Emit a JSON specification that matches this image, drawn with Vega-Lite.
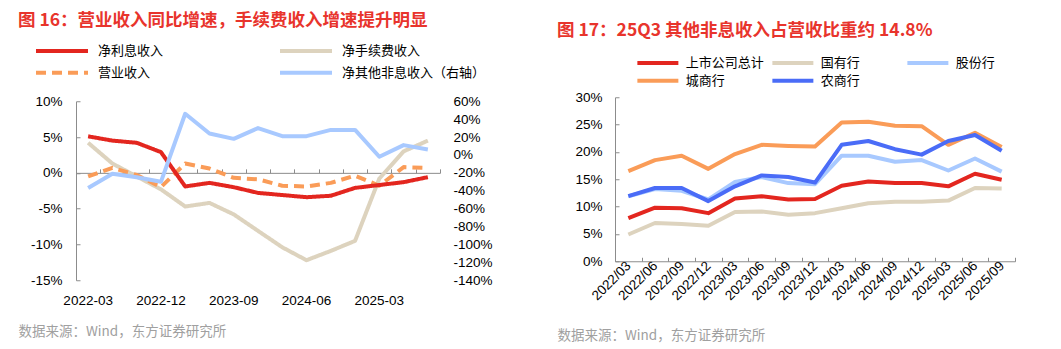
{
  "$schema": "https://vega.github.io/schema/vega-lite/v6.json",
  "padding": {"left": 18, "top": 11, "right": 5, "bottom": 5},
  "spacing": 64,
  "center": true,
  "datasets": {
    "left": [
      {"d": "2022-03", "s": "净手续费收入", "v": 4.2},
      {"d": "2022-06", "s": "净手续费收入", "v": 1.3},
      {"d": "2022-09", "s": "净手续费收入", "v": -0.5},
      {"d": "2022-12", "s": "净手续费收入", "v": -2.3},
      {"d": "2023-03", "s": "净手续费收入", "v": -4.7},
      {"d": "2023-06", "s": "净手续费收入", "v": -4.2},
      {"d": "2023-09", "s": "净手续费收入", "v": -5.8},
      {"d": "2023-12", "s": "净手续费收入", "v": -8.1},
      {"d": "2024-03", "s": "净手续费收入", "v": -10.4},
      {"d": "2024-06", "s": "净手续费收入", "v": -12.2},
      {"d": "2024-09", "s": "净手续费收入", "v": -10.9},
      {"d": "2024-12", "s": "净手续费收入", "v": -9.5},
      {"d": "2025-03", "s": "净手续费收入", "v": -0.8},
      {"d": "2025-06", "s": "净手续费收入", "v": 3.0},
      {"d": "2025-09", "s": "净手续费收入", "v": 4.5},
      {"d": "2022-03", "s": "营业收入", "v": -0.5},
      {"d": "2022-06", "s": "营业收入", "v": 0.7},
      {"d": "2022-09", "s": "营业收入", "v": -0.3},
      {"d": "2022-12", "s": "营业收入", "v": -2.0},
      {"d": "2023-03", "s": "营业收入", "v": 1.3},
      {"d": "2023-06", "s": "营业收入", "v": 0.6},
      {"d": "2023-09", "s": "营业收入", "v": -0.7},
      {"d": "2023-12", "s": "营业收入", "v": -0.9},
      {"d": "2024-03", "s": "营业收入", "v": -1.8},
      {"d": "2024-06", "s": "营业收入", "v": -1.9},
      {"d": "2024-09", "s": "营业收入", "v": -1.4},
      {"d": "2024-12", "s": "营业收入", "v": -0.4},
      {"d": "2025-03", "s": "营业收入", "v": -1.8},
      {"d": "2025-06", "s": "营业收入", "v": 0.8},
      {"d": "2025-09", "s": "营业收入", "v": 0.7},
      {"d": "2022-03", "s": "净利息收入", "v": 5.1},
      {"d": "2022-06", "s": "净利息收入", "v": 4.5},
      {"d": "2022-09", "s": "净利息收入", "v": 4.2},
      {"d": "2022-12", "s": "净利息收入", "v": 2.9},
      {"d": "2023-03", "s": "净利息收入", "v": -1.9},
      {"d": "2023-06", "s": "净利息收入", "v": -1.4},
      {"d": "2023-09", "s": "净利息收入", "v": -2.0},
      {"d": "2023-12", "s": "净利息收入", "v": -2.8},
      {"d": "2024-03", "s": "净利息收入", "v": -3.1},
      {"d": "2024-06", "s": "净利息收入", "v": -3.4},
      {"d": "2024-09", "s": "净利息收入", "v": -3.2},
      {"d": "2024-12", "s": "净利息收入", "v": -2.1},
      {"d": "2025-03", "s": "净利息收入", "v": -1.7},
      {"d": "2025-06", "s": "净利息收入", "v": -1.3},
      {"d": "2025-09", "s": "净利息收入", "v": -0.6},
      {"d": "2022-03", "s": "净其他非息收入（右轴）", "v": -37},
      {"d": "2022-06", "s": "净其他非息收入（右轴）", "v": -21},
      {"d": "2022-09", "s": "净其他非息收入（右轴）", "v": -25},
      {"d": "2022-12", "s": "净其他非息收入（右轴）", "v": -30},
      {"d": "2023-03", "s": "净其他非息收入（右轴）", "v": 46},
      {"d": "2023-06", "s": "净其他非息收入（右轴）", "v": 24},
      {"d": "2023-09", "s": "净其他非息收入（右轴）", "v": 18},
      {"d": "2023-12", "s": "净其他非息收入（右轴）", "v": 30},
      {"d": "2024-03", "s": "净其他非息收入（右轴）", "v": 21},
      {"d": "2024-06", "s": "净其他非息收入（右轴）", "v": 21},
      {"d": "2024-09", "s": "净其他非息收入（右轴）", "v": 28},
      {"d": "2024-12", "s": "净其他非息收入（右轴）", "v": 28},
      {"d": "2025-03", "s": "净其他非息收入（右轴）", "v": -2},
      {"d": "2025-06", "s": "净其他非息收入（右轴）", "v": 11},
      {"d": "2025-09", "s": "净其他非息收入（右轴）", "v": 6}
    ],
    "right": [
      {"d": "2022/03", "s": "国有行", "v": 4.9},
      {"d": "2022/06", "s": "国有行", "v": 7.0},
      {"d": "2022/09", "s": "国有行", "v": 6.8},
      {"d": "2022/12", "s": "国有行", "v": 6.5},
      {"d": "2023/03", "s": "国有行", "v": 9.0},
      {"d": "2023/06", "s": "国有行", "v": 9.1},
      {"d": "2023/09", "s": "国有行", "v": 8.5},
      {"d": "2023/12", "s": "国有行", "v": 8.8},
      {"d": "2024/03", "s": "国有行", "v": 9.7},
      {"d": "2024/06", "s": "国有行", "v": 10.6},
      {"d": "2024/09", "s": "国有行", "v": 10.9},
      {"d": "2024/12", "s": "国有行", "v": 10.9},
      {"d": "2025/03", "s": "国有行", "v": 11.1},
      {"d": "2025/06", "s": "国有行", "v": 13.4},
      {"d": "2025/09", "s": "国有行", "v": 13.3},
      {"d": "2022/03", "s": "股份行", "v": 11.9},
      {"d": "2022/06", "s": "股份行", "v": 13.2},
      {"d": "2022/09", "s": "股份行", "v": 12.9},
      {"d": "2022/12", "s": "股份行", "v": 11.3},
      {"d": "2023/03", "s": "股份行", "v": 14.5},
      {"d": "2023/06", "s": "股份行", "v": 15.4},
      {"d": "2023/09", "s": "股份行", "v": 14.3},
      {"d": "2023/12", "s": "股份行", "v": 14.1},
      {"d": "2024/03", "s": "股份行", "v": 19.3},
      {"d": "2024/06", "s": "股份行", "v": 19.3},
      {"d": "2024/09", "s": "股份行", "v": 18.2},
      {"d": "2024/12", "s": "股份行", "v": 18.5},
      {"d": "2025/03", "s": "股份行", "v": 16.6},
      {"d": "2025/06", "s": "股份行", "v": 18.8},
      {"d": "2025/09", "s": "股份行", "v": 16.4},
      {"d": "2022/03", "s": "上市公司总计", "v": 7.9},
      {"d": "2022/06", "s": "上市公司总计", "v": 9.8},
      {"d": "2022/09", "s": "上市公司总计", "v": 9.7},
      {"d": "2022/12", "s": "上市公司总计", "v": 8.8},
      {"d": "2023/03", "s": "上市公司总计", "v": 11.5},
      {"d": "2023/06", "s": "上市公司总计", "v": 11.9},
      {"d": "2023/09", "s": "上市公司总计", "v": 11.3},
      {"d": "2023/12", "s": "上市公司总计", "v": 11.4},
      {"d": "2024/03", "s": "上市公司总计", "v": 13.8},
      {"d": "2024/06", "s": "上市公司总计", "v": 14.6},
      {"d": "2024/09", "s": "上市公司总计", "v": 14.3},
      {"d": "2024/12", "s": "上市公司总计", "v": 14.3},
      {"d": "2025/03", "s": "上市公司总计", "v": 13.7},
      {"d": "2025/06", "s": "上市公司总计", "v": 16.0},
      {"d": "2025/09", "s": "上市公司总计", "v": 14.9},
      {"d": "2022/03", "s": "城商行", "v": 16.5},
      {"d": "2022/06", "s": "城商行", "v": 18.5},
      {"d": "2022/09", "s": "城商行", "v": 19.3},
      {"d": "2022/12", "s": "城商行", "v": 16.9},
      {"d": "2023/03", "s": "城商行", "v": 19.6},
      {"d": "2023/06", "s": "城商行", "v": 21.3},
      {"d": "2023/09", "s": "城商行", "v": 21.1},
      {"d": "2023/12", "s": "城商行", "v": 21.0},
      {"d": "2024/03", "s": "城商行", "v": 25.4},
      {"d": "2024/06", "s": "城商行", "v": 25.5},
      {"d": "2024/09", "s": "城商行", "v": 24.8},
      {"d": "2024/12", "s": "城商行", "v": 24.7},
      {"d": "2025/03", "s": "城商行", "v": 21.3},
      {"d": "2025/06", "s": "城商行", "v": 23.5},
      {"d": "2025/09", "s": "城商行", "v": 20.9},
      {"d": "2022/03", "s": "农商行", "v": 11.9},
      {"d": "2022/06", "s": "农商行", "v": 13.4},
      {"d": "2022/09", "s": "农商行", "v": 13.4},
      {"d": "2022/12", "s": "农商行", "v": 11.0},
      {"d": "2023/03", "s": "农商行", "v": 13.7},
      {"d": "2023/06", "s": "农商行", "v": 15.7},
      {"d": "2023/09", "s": "农商行", "v": 15.4},
      {"d": "2023/12", "s": "农商行", "v": 14.4},
      {"d": "2024/03", "s": "农商行", "v": 21.3},
      {"d": "2024/06", "s": "农商行", "v": 22.0},
      {"d": "2024/09", "s": "农商行", "v": 20.5},
      {"d": "2024/12", "s": "农商行", "v": 19.5},
      {"d": "2025/03", "s": "农商行", "v": 22.0},
      {"d": "2025/06", "s": "农商行", "v": 23.1},
      {"d": "2025/09", "s": "农商行", "v": 20.2}
    ]
  },
  "resolve": {"scale": {"color": "independent", "strokeDash": "independent", "x": "independent", "y": "independent"}, "legend": {"color": "independent", "strokeDash": "independent"}},
  "hconcat": [
    {
      "width": 364,
      "height": 179,
      "title": {"text": "图 16：营业收入同比增速，手续费收入增速提升明显", "offset": 13},
      "layer": [
        {
          "data": {"name": "left"},
          "transform": [{"filter": "datum.s !== '净其他非息收入（右轴）'"}],
          "mark": {"type": "line", "strokeWidth": 4, "strokeJoin": "round"},
          "encoding": {
            "x": {
              "field": "d", "type": "ordinal", "sort": null,
              "scale": {"type": "band", "paddingInner": 0, "paddingOuter": 0},
              "axis": {"orient": "top", "offset": -71.6, "labels": false, "domain": true, "ticks": true, "tickSize": 4, "tickBand": "extent", "title": null}
            },
            "y": {
              "field": "v", "type": "quantitative",
              "scale": {"domain": [-15, 10], "nice": false, "zero": false},
              "axis": {"orient": "left", "values": [-15, -10, -5, 0, 5, 10], "labelExpr": "datum.value + '%'", "domain": true, "ticks": true, "tickSize": -4, "labelPadding": 18, "title": null}
            },
            "color": {
              "field": "s", "type": "nominal",
              "scale": {"domain": ["净利息收入", "净手续费收入", "营业收入", "净其他非息收入（右轴）"], "range": ["#E3261F", "#DDD3BE", "#FA9C58", "#A8C9FF"]},
              "legend": {"orient": "none", "direction": "horizontal", "legendX": -42, "legendY": -59, "columns": 2, "columnPadding": 108, "rowPadding": 5, "symbolType": "M-1,0H7", "symbolStrokeWidth": 4, "symbolSize": 169, "labelOffset": 47, "labelLimit": 300, "title": null}
            },
            "strokeDash": {
              "field": "s", "type": "nominal",
              "scale": {"domain": ["净利息收入", "净手续费收入", "营业收入", "净其他非息收入（右轴）"], "range": [[1, 0], [1, 0], [10, 6], [1, 0]]},
              "legend": {"orient": "none", "direction": "horizontal", "legendX": -42, "legendY": -59, "columns": 2, "columnPadding": 108, "rowPadding": 5, "symbolType": "M-1,0H7", "symbolStrokeWidth": 4, "symbolSize": 169, "labelOffset": 47, "labelLimit": 300, "title": null}
            }
          }
        },
        {
          "data": {"name": "left"},
          "transform": [{"filter": "datum.s === '净其他非息收入（右轴）'"}],
          "mark": {"type": "line", "strokeWidth": 4, "strokeJoin": "round", "color": "#A8C9FF"},
          "encoding": {
            "x": {
              "field": "d", "type": "ordinal", "sort": null,
              "scale": {"type": "band", "paddingInner": 0, "paddingOuter": 0},
              "axis": {"orient": "bottom", "values": ["2022-03", "2022-12", "2023-09", "2024-06", "2025-03"], "domain": false, "ticks": false, "labelAngle": 0, "labelPadding": 13, "title": "数据来源：Wind，东方证券研究所", "titleX": -58, "titleY": 51, "titleAlign": "left", "titleBaseline": "middle", "titleAnchor": "start"}
            },
            "y": {
              "field": "v", "type": "quantitative",
              "scale": {"domain": [-140, 60], "nice": false, "zero": false},
              "axis": {"orient": "right", "values": [-140, -120, -100, -80, -60, -40, -20, 0, 20, 40, 60], "labelExpr": "datum.value + '%'", "domain": false, "ticks": false, "labelPadding": 13, "title": null}
            }
          }
        }
      ],
      "resolve": {"scale": {"y": "independent"}}
    },
    {
      "width": 400,
      "height": 164,
      "title": {"text": "图 17：25Q3 其他非息收入占营收比重约 14.8%", "offset": 16},
      "data": {"name": "right"},
      "mark": {"type": "line", "strokeWidth": 4, "strokeJoin": "round"},
      "encoding": {
        "x": {
          "field": "d", "type": "ordinal", "sort": null,
          "scale": {"type": "band", "paddingInner": 0, "paddingOuter": 0},
          "axis": {"tickBand": "extent", "tickSize": -4, "labelAngle": -45, "labelAlign": "right", "labelBaseline": "middle", "labelPadding": 6, "title": "数据来源：Wind，东方证券研究所", "titleX": -58, "titleY": 74, "titleAlign": "left", "titleBaseline": "middle", "titleAnchor": "start"}
        },
        "y": {
          "field": "v", "type": "quantitative",
          "scale": {"domain": [0, 30], "nice": false},
          "axis": {"values": [0, 5, 10, 15, 20, 25, 30], "labelExpr": "datum.value + '%'", "tickSize": -4, "labelPadding": 17, "title": null}
        },
        "color": {
          "field": "s", "type": "nominal",
          "scale": {"domain": ["上市公司总计", "国有行", "股份行", "城商行", "农商行"], "range": ["#E3261F", "#DDD3BE", "#A8C9FF", "#FA9C58", "#4A6CF7"]},
          "legend": {"orient": "none", "direction": "horizontal", "legendX": 20, "legendY": -42, "columns": 3, "columnPadding": 0, "rowPadding": 1, "gridAlign": "all", "symbolType": "M-1,0H7", "symbolStrokeWidth": 4, "symbolSize": 105, "labelOffset": 35.75, "labelLimit": 300, "title": null}
        }
      }
    }
  ],
  "config": {
    "view": {"stroke": null},
    "font": "Liberation Sans",
    "axis": {"grid": false, "labelFont": "Liberation Sans", "labelFontSize": 13.5, "labelColor": "#000000", "domainColor": "#8c8c8c", "tickColor": "#8c8c8c", "titleFont": "Noto Sans CJK SC", "titleFontSize": 13.5, "titleColor": "#a0a0a0", "titleFontWeight": "normal"},
    "legend": {"labelFont": "Noto Sans CJK SC", "labelFontSize": 13, "labelColor": "#000000"},
    "title": {"font": "Noto Sans CJK SC", "fontSize": 17.5, "fontWeight": "bold", "color": "#E8342C", "anchor": "start", "frame": "bounds"}
  }
}
